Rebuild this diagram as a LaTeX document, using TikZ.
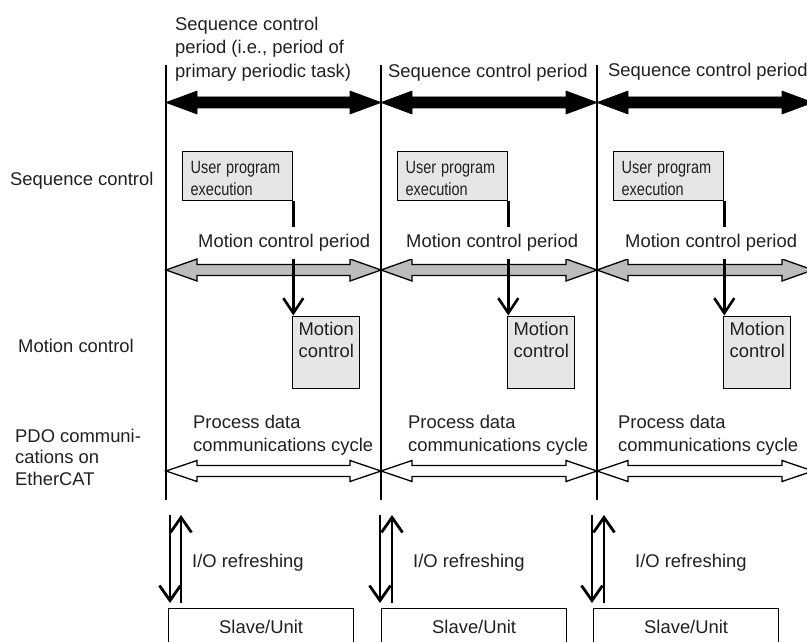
\documentclass[tikz,border=0pt]{standalone}
\usepackage{fontspec}
\usepackage{graphicx}
\setmainfont{Liberation Sans}
\usetikzlibrary{arrows.meta,calc}
\definecolor{txt}{RGB}{35,31,32}
\definecolor{boxgray}{RGB}{230,230,230}
\definecolor{arrgray}{RGB}{188,188,188}
% double-headed fat arrow: #1 left tip, #2 right tip, #3 half shaft, #4 half head, #5 head length, #6 style
\newcommand\dblfat[6]{%
  \draw[#6] (#1) -- ($(#1)+(#5,-#4)$) -- ($(#1)+(#5,-#3)$) -- ($(#2)+(-#5,-#3)$)
    -- ($(#2)+(-#5,-#4)$) -- (#2) -- ($(#2)+(-#5,#4)$) -- ($(#2)+(-#5,#3)$)
    -- ($(#1)+(#5,#3)$) -- ($(#1)+(#5,#4)$) -- cycle;}
\newcommand\fstrut{\rule{0pt}{14pt}}
\newcommand\narrowtxt[1]{\scalebox{0.82}[1]{#1}}
\newcommand\uptext{\rule{0pt}{19pt}\narrowtxt{User program}\\\narrowtxt{execution}\rule[-2pt]{0pt}{2pt}}
\begin{document}
\begin{tikzpicture}[x=1pt,y=-1pt,
  vline/.style={line width=1.4pt, draw=black},
  seqarr/.style={fill=black, draw=black, line width=0.6pt},
  motarr/.style={fill=arrgray, draw=black, line width=1.3pt},
  pdarr/.style={fill=white, draw=black, line width=1.3pt},
  tx/.style={anchor=north west, inner sep=0pt, align=left, text=txt,
    font=\fontsize{18.4}{23.5}\selectfont},
  mcp/.style={anchor=base west, inner xsep=0pt, inner ysep=7pt, text height=13.5pt,
    text depth=4pt, fill=white, text=txt, font=\fontsize{18.4}{22}\selectfont},
  ubox/.style={draw=black, line width=1.3pt, fill=boxgray, anchor=north west,
    inner xsep=8pt, inner ysep=3pt, text width=94pt, align=left, text=txt,
    font=\fontsize{17.7}{22}\selectfont},
  mbox/.style={draw=black, line width=1.3pt, fill=boxgray, anchor=north west,
    inner xsep=6pt, inner ysep=5.5pt, text width=55pt, align=left, text=txt,
    font=\fontsize{18.4}{22}\selectfont},
  sbox/.style={draw=black, line width=1.3pt, fill=white, anchor=north west,
    inner ysep=3pt, minimum width=185pt, text=txt, font=\fontsize{18.4}{22}\selectfont},
  conn/.style={draw=black, line width=2.6pt, -{Straight Barb[length=15pt,width=20pt]}},
  io/.style={draw=black, line width=2.8pt, -{Straight Barb[length=15pt,width=21pt]}}
]
\useasboundingbox (0,0) rectangle (807,642);

% vertical period boundaries
\foreach \i/\x in {1/166,2/381,3/597}{
  \coordinate (vt\i) at (\x,65);
  \coordinate (vb\i) at (\x,500);
  \draw[vline] (vt\i) -- (vb\i);
}

% arrow end points
\foreach \i/\x in {1/166,2/381,3/597,4/813}{
  \coordinate (sq\i) at (\x,102.5);
  \coordinate (mc\i) at (\x,270);
  \coordinate (pc\i) at (\x,471);
}

% sequence control period arrows
\dblfat{sq1}{sq2}{5.5}{11.5}{31}{seqarr}
\dblfat{sq2}{sq3}{5.5}{11.5}{31}{seqarr}
\dblfat{sq3}{sq4}{5.5}{11.5}{31}{seqarr}
% motion control period arrows
\dblfat{mc1}{mc2}{5.5}{11}{31}{motarr}
\dblfat{mc2}{mc3}{5.5}{11}{31}{motarr}
\dblfat{mc3}{mc4}{5.5}{11}{31}{motarr}
% process data communications cycle arrows
\dblfat{pc1}{pc2}{5.5}{10.5}{31}{pdarr}
\dblfat{pc2}{pc3}{5.5}{10.5}{31}{pdarr}
\dblfat{pc3}{pc4}{5.5}{10.5}{31}{pdarr}

% user program boxes and motion control boxes
\node[ubox] (ub1) at (182,151) {\uptext};
\node[ubox] (ub2) at (397,151) {\uptext};
\node[ubox] (ub3) at (613,151) {\uptext};
\node[mbox] (mb1) at (292,315.5) {\rule{0pt}{14pt}Motion\\control\rule[-25pt]{0pt}{25pt}};
\node[mbox] (mb2) at (507,315.5) {\rule{0pt}{14pt}Motion\\control\rule[-25pt]{0pt}{25pt}};
\node[mbox] (mb3) at (723,315.5) {\rule{0pt}{14pt}Motion\\control\rule[-25pt]{0pt}{25pt}};

% connectors
\foreach \i in {1,2,3}{
  \draw[conn] (ub\i.south east) -- (ub\i.south east |- mb\i.north);
}

% motion control period labels (white background breaks connector)
\node[mcp] (mp1) at (198,247.5) {Motion control period};
\node[mcp] (mp2) at (406,247.5) {Motion control period};
\node[mcp] (mp3) at (625,247.5) {Motion control period};

% sequence control period labels
\node[tx] (ps1) at (175,16) {\fstrut Sequence control\\period (i.e., period of\\primary periodic task)};
\node[tx] (ps2) at (388,63) {\fstrut Sequence control period};
\node[tx] (ps3) at (608,62) {\fstrut Sequence control period};

% process data labels
\node[tx, font=\fontsize{18.4}{23}\selectfont] (pd1) at (193,414) {\fstrut Process data\\communications cycle};
\node[tx, font=\fontsize{18.4}{23}\selectfont] (pd2) at (408,414) {\fstrut Process data\\communications cycle};
\node[tx, font=\fontsize{18.4}{23}\selectfont] (pd3) at (618,414) {\fstrut Process data\\communications cycle};

% row labels
\node[tx] (lseq) at (10,171) {\fstrut Sequence control};
\node[tx] (lmot) at (18,338) {\fstrut Motion control};
\node[tx, font=\fontsize{18.4}{21.5}\selectfont] (lpdo) at (15,428) {\fstrut PDO communi-\\cations on\\EtherCAT};

% slave boxes
\node[sbox] (sb1) at (168,608) {\rule[-12pt]{0pt}{34pt}Slave/Unit};
\node[sbox] (sb2) at (381,608) {\rule[-12pt]{0pt}{34pt}Slave/Unit};
\node[sbox] (sb3) at (593,608) {\rule[-12pt]{0pt}{34pt}Slave/Unit};

% I/O refreshing arrows
\foreach \i/\xd/\xu in {1/170/181,2/380/392,3/592/604}{
  \coordinate (dn\i s) at (\xd,515);
  \coordinate (dn\i e) at (\xd,603);
  \coordinate (up\i s) at (\xu,603);
  \coordinate (up\i e) at (\xu,515);
  \draw[io] (dn\i s) -- (dn\i e);
  \draw[io] (up\i s) -- (up\i e);
}
\node[tx] (io1) at (192,553) {\fstrut I/O refreshing};
\node[tx] (io2) at (413,553) {\fstrut I/O refreshing};
\node[tx] (io3) at (635,553) {\fstrut I/O refreshing};
\end{tikzpicture}
\end{document}
